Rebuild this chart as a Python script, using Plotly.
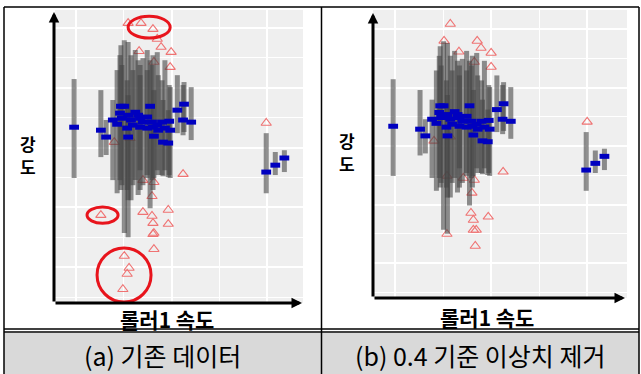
import plotly.graph_objects as go

# ---------------- data ----------------
# roller-1 speed groups: mean strength with interval (shared by both panels)
grp_speed = [-0.04, 0.52, 0.63, 3.98, 4.17, 4.36,
             0.94, 1.01, 1.55, 2.12, 2.26, 2.24, 2.41, 0.77, 0.86, 0.96, 1.09, 1.15,
             1.24, 1.30, 1.34, 1.40, 1.49, 1.59, 1.61, 1.70, 1.80, 1.86, 1.95, 1.97,
             1.07, 1.19, 1.09, 1.49, 1.63, 1.82, 1.93, 1.72, 1.34, 0.92]
grp_mean = [4.68, 4.58, 4.35, 3.18, 3.41, 3.65,
            5.38, 5.38, 5.38, 5.25, 5.45, 4.92, 4.85, 4.92, 4.78, 4.98, 5.08, 4.92,
            5.18, 5.08, 4.98, 4.85, 5.02, 4.85, 4.68, 4.75, 4.85, 4.65, 4.88, 4.58,
            4.65, 4.75, 4.35, 4.65, 4.38, 4.18, 4.15, 4.58, 4.68, 5.15]
grp_upper = [6.29, 5.92, 4.92, 4.48, 3.85, 3.91,
             7.42, 7.59, 6.92, 6.42, 6.19, 6.09, 6.02, 5.59, 6.59, 6.76, 7.53, 7.09,
             7.26, 6.92, 6.42, 6.99, 7.26, 6.76, 7.09, 7.19, 6.25, 6.92, 6.09, 6.02,
             6.25, 6.59, 5.75, 6.59, 5.92, 5.59, 5.25, 6.42, 6.76, 7.09]
grp_lower = [2.98, 3.68, 3.75, 2.47, 3.08, 3.18,
             2.58, 1.14, 1.97, 4.48, 4.52, 4.41, 4.25, 2.91, 2.47, 2.74, 1.00, 2.24,
             2.91, 2.41, 3.24, 2.74, 3.08, 2.91, 2.58, 3.24, 3.08, 3.24, 3.08, 2.98,
             2.58, 2.74, 2.24, 2.98, 2.98, 3.04, 3.01, 3.08, 2.58, 2.91]

# outliers, (a) original data
out_a_speed = [1.09, 1.36, 1.61, 1.70, 1.32, 1.78, 1.99, 1.63, 1.97, 3.98, 0.80, 1.13,
               2.24, 1.40, 1.63, 1.59, 1.93, 1.40, 1.59, 1.61, 1.93, 1.63, 1.61, 0.52,
               1.63, 1.01, 1.11, 1.07, 0.98]
out_a_str = [8.16, 8.16, 7.96, 7.63, 7.22, 7.36, 7.19, 6.86, 6.69, 4.82, 4.18, 4.31,
             3.11, 2.91, 2.84, 2.37, 1.91, 1.84, 1.71, 1.47, 1.44, 1.14, 1.10, 1.74,
             0.60, 0.37, -0.03, -0.23, -0.74]

# outliers, (b) after 0.4-criterion removal
out_b_speed = [1.15, 1.02, 1.71, 1.33, 1.79, 2.00, 1.65, 2.00, 4.00, 0.81, 1.15, 2.25,
               1.08, 1.42, 1.65, 1.60, 1.58, 1.63, 1.94, 1.63, 1.69, 1.08, 1.67]
out_b_str = [8.18, 7.60, 7.60, 7.23, 7.36, 7.19, 6.88, 6.71, 4.83, 4.18, 4.32, 3.12,
             2.98, 2.91, 2.84, 2.40, 1.71, 1.47, 1.58, 1.13, 1.13, 0.99, 0.58]

# highlighted outlier regions in (a): (x0, x1, y0, y1)
highlight_regions = [(1.09, 1.97, 7.66, 8.39), (0.23, 0.88, 1.47, 2.01), (0.44, 1.57, -1.17, 0.64)]

x_title = "롤러1 속도"
y_title_chars = ["강", "도"]
captions = ["(a) 기존 데이터", "(b) 0.4 기준 이상치 제거"]

# ---------------- figure ----------------
W, H = 641, 374
KR = "Noto Sans CJK KR"
fig = go.Figure()

err_up = [u - m for u, m in zip(grp_upper, grp_mean)]
err_dn = [m - l for m, l in zip(grp_mean, grp_lower)]

for xa, ya, osx, osy in [("x", "y", out_a_speed, out_a_str), ("x2", "y2", out_b_speed, out_b_str)]:
    fig.add_trace(go.Scatter(x=osx, y=osy, mode="markers", xaxis=xa, yaxis=ya,
                             marker=dict(symbol="triangle-up-open", size=9, color="#ef7373",
                                         line=dict(width=1.1, color="#ef7373")),
                             showlegend=False, hoverinfo="skip"))
    fig.add_trace(go.Scatter(x=grp_speed, y=grp_mean, mode="markers", xaxis=xa, yaxis=ya,
                             error_y=dict(type="data", symmetric=False, array=err_up,
                                          arrayminus=err_dn, color="rgba(70,70,70,0.6)",
                                          thickness=5, width=0),
                             marker=dict(symbol="line-ew", size=7, color="#0000cc",
                                         line=dict(width=5, color="#0000c0")),
                             showlegend=False, hoverinfo="skip"))

def px_x(p):
    return p / W

def px_y(p):
    return 1 - p / H

axis_common = dict(showticklabels=False, ticks="", zeroline=False, showline=False,
                   gridcolor="white", gridwidth=2, dtick=2, tick0=0,
                   minor=dict(dtick=1, gridcolor="white", gridwidth=1, showgrid=True))

fig.update_layout(
    width=W, height=H, margin=dict(l=0, r=0, t=0, b=0),
    paper_bgcolor="white", plot_bgcolor="#efefef",
    xaxis=dict(domain=[px_x(55), px_x(303)], range=[-0.44, 4.75], anchor="y", **axis_common),
    yaxis=dict(domain=[px_y(303), px_y(10)], range=[-1.2, 8.6], anchor="x", **axis_common),
    xaxis2=dict(domain=[px_x(373), px_x(627)], range=[-0.46, 4.83], anchor="y2", **axis_common),
    yaxis2=dict(domain=[px_y(298), px_y(10)], range=[-1.2, 8.66], anchor="x2", **axis_common),
)

shapes = []
# red highlight ellipses in (a)
for x0, x1, y0, y1 in highlight_regions:
    shapes.append(dict(type="circle", xref="x", yref="y", x0=x0, x1=x1, y0=y0, y1=y1,
                       line=dict(color="#e8141c", width=3)))
# caption band
shapes.append(dict(type="rect", xref="paper", yref="paper", x0=px_x(4), x1=px_x(639),
                   y0=px_y(374), y1=px_y(333), fillcolor="#d9d9d9", line=dict(width=0), layer="below"))
# table borders
line_k = dict(color="black", width=1.5)
for (x0, y0, x1, y1) in [(4, 7, 639, 7), (4, 7, 4, 374), (321.5, 7, 321.5, 374), (639, 7, 639, 374),
                         (4, 329, 639, 329), (4, 332, 639, 332)]:
    shapes.append(dict(type="line", xref="paper", yref="paper", x0=px_x(x0), x1=px_x(x1),
                       y0=px_y(y0), y1=px_y(y1), line=line_k))
fig.update_layout(shapes=shapes)

ann = []
# axis arrows
for (hx, hy, ax, ay) in [(54, 12, 0, 291), (302, 303, -248, 0), (373, 13, 0, 285), (625, 298, -252, 0)]:
    ann.append(dict(xref="paper", yref="paper", x=px_x(hx), y=px_y(hy), ax=ax, ay=ay,
                    axref="pixel", ayref="pixel", text="", showarrow=True,
                    arrowhead=2, arrowsize=0.7, arrowwidth=3, arrowcolor="black"))
# axis titles
for cx, cy in [(167, 319), (487, 317)]:
    ann.append(dict(xref="paper", yref="paper", x=px_x(cx), y=px_y(cy), text="<b>%s</b>" % x_title,
                    showarrow=False, font=dict(family=KR, size=21, color="black"),
                    xanchor="center", yanchor="middle"))
for cx, cy in [(27.5, 155), (347, 152)]:
    for i, ch in enumerate(y_title_chars):
        ann.append(dict(xref="paper", yref="paper", x=px_x(cx), y=px_y(cy - 11.5 + 23 * i),
                        text="<b>%s</b>" % ch, showarrow=False,
                        font=dict(family=KR, size=17, color="black"),
                        xanchor="center", yanchor="middle"))
# captions
for cap, cx in zip(captions, [162, 480]):
    ann.append(dict(xref="paper", yref="paper", x=px_x(cx), y=px_y(355), text=cap,
                    showarrow=False, font=dict(family=KR, size=25, color="black"),
                    xanchor="center", yanchor="middle"))
fig.update_layout(annotations=ann)

fig.write_html("out.html", config={"displayModeBar": False, "staticPlot": True},
               post_script="document.body.style.margin='0px';document.body.style.overflow='hidden';")
